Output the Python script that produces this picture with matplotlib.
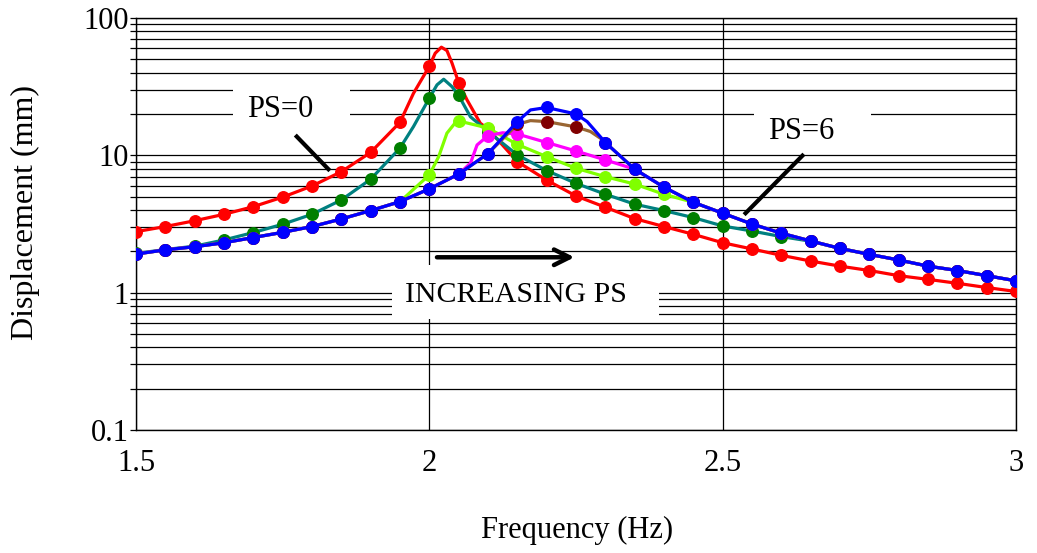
import matplotlib
matplotlib.use("Agg")
import matplotlib.pyplot as plt
from matplotlib.patches import Rectangle
from matplotlib.ticker import FixedLocator, LogLocator, NullFormatter, FuncFormatter


# --- data (markers every 0.05 Hz)
FREQ = [1.50, 1.55, 1.60, 1.65, 1.70, 1.75, 1.80, 1.85, 1.90, 1.95,
        2.00, 2.05, 2.10, 2.15, 2.20, 2.25, 2.30, 2.35, 2.40, 2.45,
        2.50, 2.55, 2.60, 2.65, 2.70, 2.75, 2.80, 2.85, 2.90, 2.95, 3.00]

PS0 = [2.78, 3.03, 3.34, 3.72, 4.23, 4.96, 5.98, 7.6, 10.5, 17.4,
       44.5, 33.8, 15.6, 9.0, 6.6, 5.06, 4.19, 3.46, 3.03, 2.66,
       2.31, 2.08, 1.87, 1.70, 1.56, 1.45, 1.33, 1.25, 1.17, 1.09, 1.02]

PS1 = [1.93, 2.06, 2.18, 2.42, 2.74, 3.15, 3.72, 4.73, 6.7, 11.3,
       26.1, 27.3, 14.9, 10.06, 7.75, 6.25, 5.21, 4.41, 3.96, 3.52,
       3.06, 2.81, 2.56, 2.37, 2.10, 1.90, 1.73, 1.56, 1.45, 1.33, 1.22]

PS2 = [1.91, 2.05, 2.16, 2.31, 2.52, 2.75, 3.03, 3.44, 3.96, 4.6,
       7.2, 17.8, 15.8, 12.0, 9.78, 8.05, 6.99, 6.18, 5.2, 4.55,
       3.79, 3.16, 2.71, 2.38, 2.10, 1.90, 1.73, 1.56, 1.45, 1.33, 1.22]

PS3 = [1.91, 2.05, 2.16, 2.31, 2.52, 2.75, 3.03, 3.44, 3.96, 4.6,
       5.7, 7.3, 13.9, 14.3, 12.4, 10.75, 9.26, 7.93, 5.86, 4.55,
       3.79, 3.16, 2.71, 2.38, 2.10, 1.90, 1.73, 1.56, 1.45, 1.33, 1.22]

PS4 = [1.91, 2.05, 2.16, 2.31, 2.52, 2.75, 3.03, 3.44, 3.96, 4.6,
       5.7, 7.3, 10.3, 16.8, 17.6, 16.1, 12.4, 7.93, 5.86, 4.55,
       3.79, 3.16, 2.71, 2.38, 2.10, 1.90, 1.73, 1.56, 1.45, 1.33, 1.22]

PS6 = [1.91, 2.05, 2.16, 2.31, 2.52, 2.75, 3.03, 3.44, 3.96, 4.6,
       5.7, 7.3, 10.3, 17.6, 22.3, 20.0, 12.4, 7.93, 5.86, 4.55,
       3.79, 3.16, 2.71, 2.38, 2.10, 1.90, 1.73, 1.56, 1.45, 1.33, 1.22]

# extra points of the smooth lines between markers (peaks)
PS0_EXTRA_F = [1.973, 2.010, 2.0205, 2.030, 2.0387, 2.0643, 2.087]
PS0_EXTRA_V = [28.3, 55.4, 61.3, 57.9, 46.9, 25.3, 17.1]

PS1_EXTRA_F = [1.973, 2.0131, 2.0245, 2.0387, 2.070]
PS1_EXTRA_V = [16.2, 32.6, 35.8, 31.6, 19.1]

PS2_EXTRA_F = [2.016, 2.030, 2.0444]
PS2_EXTRA_V = [9.8, 14.5, 17.3]

PS3_EXTRA_F = [2.070, 2.0814, 2.125]
PS3_EXTRA_V = [8.75, 11.9, 14.6]

PS4_EXTRA_F = [2.1724, 2.2747, 2.2918]
PS4_EXTRA_V = [17.9, 14.9, 13.3]

PS6_EXTRA_F = [2.1724, 2.269, 2.2862]
PS6_EXTRA_V = [21.4, 17.6, 14.5]

X_TICKS = [1.5, 2, 2.5, 3]
Y_TICKS = [0.1, 1, 10, 100]


def line_points(freq, vals, extra_f, extra_v):
    pts = sorted(zip(list(freq) + list(extra_f), list(vals) + list(extra_v)))
    return [p[0] for p in pts], [p[1] for p in pts]


def main():
    plt.rcParams["font.family"] = ["Liberation Serif", "DejaVu Serif"]

    fig = plt.figure(figsize=(10.37, 5.53), dpi=100)
    ax = fig.add_axes([136 / 1037, 1 - 430 / 553, 880 / 1037, 412 / 553])

    ax.set_yscale("log")
    ax.set_xlim(1.5, 3)
    ax.set_ylim(0.1, 100)

    # --- grid: every decade subdivision, vertical only at the majors
    ax.xaxis.set_major_locator(FixedLocator(X_TICKS))
    ax.yaxis.set_major_locator(FixedLocator(Y_TICKS))
    ax.yaxis.set_minor_locator(LogLocator(base=10, subs=range(2, 10)))
    ax.yaxis.set_minor_formatter(NullFormatter())
    ax.yaxis.set_major_formatter(FuncFormatter(lambda v, p: f"{v:g}"))
    ax.xaxis.set_major_formatter(FuncFormatter(lambda v, p: f"{v:g}"))
    ax.set_axisbelow(True)
    ax.grid(which="both", axis="y", color="black", linewidth=0.9)
    ax.grid(which="major", axis="x", color="black", linewidth=0.9)

    ax.tick_params(axis="y", which="both", length=4, width=0.9, pad=1, labelsize=22)
    ax.tick_params(axis="x", which="both", length=0, pad=14, labelsize=22)
    for sp in ax.spines.values():
        sp.set_color("black")
        sp.set_linewidth(1.0)

    # --- white label boxes hiding the grid
    boxes = [
        (1.6655, 11.0, 1.865, 34.0),
        (2.553, 10.9, 2.7526, 25.3),
        (1.9369, 0.643, 2.3908, 1.59),
    ]
    for x0, y0, x1, y1 in boxes:
        ax.add_patch(Rectangle((x0, y0), x1 - x0, y1 - y0, facecolor="white",
                               edgecolor="none", zorder=1))

    # --- curves
    series = [
        (PS0, PS0_EXTRA_F, PS0_EXTRA_V, "#ff0000", "#ff0000"),
        (PS1, PS1_EXTRA_F, PS1_EXTRA_V, "#008080", "#007f00"),
        (PS2, PS2_EXTRA_F, PS2_EXTRA_V, "#80ff00", "#80ff00"),
        (PS3, PS3_EXTRA_F, PS3_EXTRA_V, "#ff00ff", "#ff00ff"),
        (PS4, PS4_EXTRA_F, PS4_EXTRA_V, "#996633", "#800000"),
        (PS6, PS6_EXTRA_F, PS6_EXTRA_V, "#0000ff", "#0000ff"),
    ]
    for i, (vals, ef, ev, lcol, mcol) in enumerate(series):
        lf, lv = line_points(FREQ, vals, ef, ev)
        ax.plot(lf, lv, color=lcol, linewidth=2.3, zorder=3 + i)
        ax.plot(FREQ, vals, "o", color=mcol, markersize=8.3, zorder=3 + i)

    # --- annotations
    ax.text(1.7457, 21.5, "PS=0", fontsize=22, ha="center", va="center", zorder=10)
    ax.plot([1.774, 1.828], [13.7, 7.92], color="black", linewidth=3, zorder=10)

    ax.text(2.633, 14.8, "PS=6", fontsize=22, ha="center", va="center", zorder=10)
    ax.plot([2.636, 2.539], [9.95, 3.79], color="black", linewidth=3, zorder=10)

    ax.text(2.148, 0.955, "INCREASING PS", fontsize=21.5, ha="center", va="center", zorder=10)
    ax.annotate("", xy=(2.2474, 1.81), xytext=(2.013, 1.81),
                arrowprops=dict(arrowstyle="->", color="black", lw=3.2,
                                mutation_scale=28, shrinkA=0, shrinkB=0),
                zorder=10)

    fig.text(577 / 1037, 1 - 530 / 553, "Frequency (Hz)", fontsize=22,
             ha="center", va="center")
    fig.text(25 / 1037, 1 - 213 / 553, "Displacement (mm)", fontsize=23,
             rotation=90, ha="center", va="center")

    fig.savefig("out.png", dpi=100)
    plt.close(fig)


if __name__ == "__main__":
    main()
